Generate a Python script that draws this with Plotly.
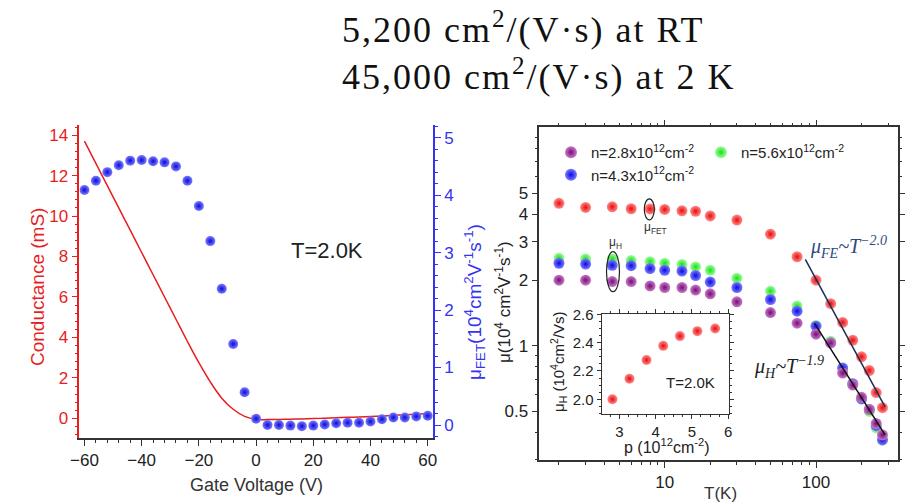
import plotly.graph_objects as go

# ---------------- data ----------------
# Left panel: conductance (red line) vs gate voltage
gate_v_line = [-60, -56, -52, -48, -44, -40, -36, -32, -28, -24, -20, -16, -12, -8, -4,
               0, 4, 8, 12, 16, 20, 24, 28, 32, 36, 40, 44, 48, 52, 56, 60]
conductance = [13.7, 12.6, 11.5, 10.4, 9.3, 8.2, 7.1, 6.0, 4.9, 3.8, 2.75, 1.8, 1.0, 0.45, 0.1,
               -0.05, -0.06, -0.05, -0.04, -0.03, -0.01, 0.01, 0.03, 0.05, 0.07, 0.09, 0.12, 0.15, 0.18, 0.21, 0.24]

# Left panel: mu_FET (blue spheres) vs gate voltage
gate_v_pts = [-60, -56, -52, -48, -44, -40, -36, -32, -28, -24, -20, -16, -12, -8, -4,
              0, 4, 8, 12, 16, 20, 24, 28, 32, 36, 40, 44, 48, 52, 56, 60]
mu_fet_gate = [4.09, 4.25, 4.40, 4.52, 4.60, 4.61, 4.59, 4.57, 4.50, 4.25, 3.81, 3.20, 2.37, 1.41, 0.57,
               0.11, 0.0, 0.0, -0.01, -0.02, -0.01, 0.01, 0.03, 0.04, 0.04, 0.06, 0.10, 0.13, 0.13, 0.15, 0.16]

# Right panel: mobility vs temperature
temp_k = [2, 3, 4.5, 6, 8, 10, 13, 16, 20, 30, 50, 75, 100, 125, 150, 175, 200, 225, 250, 275]
mu_fet_t = [4.50, 4.31, 4.34, 4.25, 4.24, 4.22, 4.16, 4.14, 3.94, 3.77, 3.25, 2.56,
            2.00, 1.56, 1.28, 1.06, 0.89, 0.77, 0.61, 0.52]
mu_h_n56 = [2.52, 2.50, 2.50, 2.46, 2.43, 2.39, 2.36, 2.30, 2.22, 2.04, 1.78, 1.52,
            1.24, 1.05, 0.79, 0.67, 0.57, 0.50, 0.42, 0.37]
mu_h_n43 = [2.39, 2.37, 2.34, 2.33, 2.26, 2.22, 2.20, 2.10, 1.96, 1.85, 1.63, 1.44,
            1.23, 1.03, 0.79, 0.67, 0.57, 0.51, 0.43, 0.37]
mu_h_n28 = [2.00, 2.00, 1.97, 1.97, 1.88, 1.85, 1.85, 1.80, 1.73, 1.59, 1.42, 1.27,
            1.13, 1.03, 0.75, 0.66, 0.58, 0.51, 0.44, 0.39]

# Power-law guide lines (end points)
fit_fe_t = [85, 286]
fit_fe_mu = [2.49, 0.525]
fit_h_t = [97.5, 286]
fit_h_mu = [1.27, 0.39]

# Inset: mu_H vs hole density at 2 K
p_dens = [2.81, 3.28, 3.75, 4.21, 4.67, 5.15, 5.64]
mu_h_p = [2.00, 2.145, 2.277, 2.377, 2.446, 2.481, 2.50]

legend_names = ["n=2.8x10<sup>12</sup>cm<sup>-2</sup>",
                "n=5.6x10<sup>12</sup>cm<sup>-2</sup>",
                "n=4.3x10<sup>12</sup>cm<sup>-2</sup>"]

# ---------------- figure ----------------
W, H = 910, 504
def px_x(p):
    return p / W
def px_y(p):
    return 1 - p / H

SANS = "Liberation Sans, Arial, sans-serif"
SERIF = "Liberation Serif, Times New Roman, serif"

RED = "#e81e1e"
BLUE_AX = "#3434f0"

fig = go.Figure()

def sphere(x, y, light, base, size, xa, ya, name=None, showlegend=False, legend="legend", rank=1000):
    fig.add_trace(go.Scatter(x=x, y=y, mode="markers", xaxis=xa, yaxis=ya,
                             name=name, showlegend=showlegend, legend=legend, legendrank=rank,
                             marker=dict(size=size, color=light,
                                         gradient=dict(type="radial", color=base),
                                         line=dict(width=0)),
                             hoverinfo="skip"))

# left panel
fig.add_trace(go.Scatter(x=gate_v_line, y=conductance, mode="lines", line=dict(color=RED, width=1.5, shape="spline"),
                         xaxis="x", yaxis="y", showlegend=False, hoverinfo="skip"))
sphere(gate_v_pts, mu_fet_gate, "#7c7cff", "#0a0ad8", 10, "x", "y2")

# right panel
sphere(temp_k, mu_h_n56, "#a0ffa0", "#18dc18", 11, "x3", "y3", legend_names[1], True, "legend2", 1)
sphere(temp_k, mu_h_n43, "#7c7cff", "#0a0ae0", 11, "x3", "y3", legend_names[2], True, "legend", 2)
sphere(temp_k, mu_h_n28, "#c77cc7", "#780a78", 11, "x3", "y3", legend_names[0], True, "legend", 1)
sphere(temp_k, mu_fet_t, "#ff8c8c", "#e80a0a", 11, "x3", "y3")
fig.add_trace(go.Scatter(x=fit_fe_t, y=fit_fe_mu, mode="lines", line=dict(color="#1c2e55", width=1.5),
                         xaxis="x3", yaxis="y3", showlegend=False, hoverinfo="skip"))
fig.add_trace(go.Scatter(x=fit_h_t, y=fit_h_mu, mode="lines", line=dict(color="#111111", width=1.5),
                         xaxis="x3", yaxis="y3", showlegend=False, hoverinfo="skip"))

# inset
sphere(p_dens, mu_h_p, "#ff8c8c", "#e80a0a", 10, "x4", "y4")

tickfont_main = dict(family=SANS, size=17, color="#222")
AXC = "#333"
legfont = dict(family=SANS, size=15, color="#222")

fig.update_layout(
    width=W, height=H, margin=dict(l=0, r=0, t=0, b=0, autoexpand=False),
    paper_bgcolor="white", plot_bgcolor="white",
    showlegend=True,
    legend=dict(orientation="v", x=px_x(551), y=px_y(136), xanchor="left", yanchor="top",
                bgcolor="rgba(0,0,0,0)", font=legfont, itemsizing="constant", tracegroupgap=0),
    legend2=dict(orientation="v", x=px_x(701), y=px_y(136), xanchor="left", yanchor="top",
                 bgcolor="rgba(0,0,0,0)", font=legfont, itemsizing="constant"),
    xaxis=dict(domain=[px_x(79.3), px_x(433)], range=[-61.8, 61.85], anchor="y",
               tickvals=[-60, -40, -20, 0, 20, 40, 60], ticks="outside", ticklen=6, tickwidth=1.2,
               tickcolor=AXC, showline=True, linecolor=AXC, linewidth=1.5, showgrid=False, zeroline=False,
               tickfont=tickfont_main,
               minor=dict(dtick=4, ticks="outside", ticklen=3, tickcolor=AXC, showgrid=False)),
    xaxis2=dict(overlaying="x", side="top", anchor="y", range=[-61.8, 61.85],
                tickvals=[-60, -40, -20, 0, 20, 40, 60], ticks="inside", ticklen=6, tickcolor=AXC,
                showticklabels=False, showline=True, linecolor=AXC, linewidth=1.5, showgrid=False, zeroline=False,
                minor=dict(dtick=4, ticks="inside", ticklen=3, tickcolor=AXC, showgrid=False)),
    yaxis=dict(domain=[px_y(438), px_y(125)], range=[-0.97, 14.5], anchor="x",
               tickvals=[0, 2, 4, 6, 8, 10, 12, 14], ticks="outside", ticklen=6, tickcolor=RED,
               showline=True, linecolor=RED, linewidth=1.5, showgrid=False, zeroline=False,
               tickfont=dict(family=SANS, size=17, color=RED),
               minor=dict(dtick=0.4, ticks="outside", ticklen=3, tickcolor=RED, showgrid=False)),
    yaxis2=dict(overlaying="y", side="right", anchor="x", range=[-0.226, 5.22],
                tickvals=[0, 1, 2, 3, 4, 5], ticks="outside", ticklen=6, tickcolor=BLUE_AX,
                showline=True, linecolor=BLUE_AX, linewidth=1.5, showgrid=False, zeroline=False,
                tickfont=dict(family=SANS, size=17, color=BLUE_AX),
                minor=dict(dtick=0.2, ticks="outside", ticklen=3, tickcolor=BLUE_AX, showgrid=False)),
    xaxis3=dict(type="log", domain=[px_x(539.3), px_x(897.7)], range=[0.171, 2.54], anchor="y3",
                tickvals=[10, 100], ticktext=["10", "100"], ticks="outside", ticklen=6, tickcolor=AXC,
                showline=True, linecolor=AXC, linewidth=1.5, mirror="ticks", showgrid=False, zeroline=False,
                tickfont=tickfont_main,
                minor=dict(tickvals=[2, 3, 4, 5, 6, 7, 8, 9, 20, 30, 40, 50, 60, 70, 80, 90, 200, 300],
                           ticks="outside", ticklen=3, tickcolor=AXC, showgrid=False)),
    yaxis3=dict(type="log", domain=[px_y(460), px_y(127.3)], range=[-0.524, 1.002], anchor="x3",
                tickvals=[0.5, 1, 2, 3, 4, 5], ticktext=["0.5", "1", "2", "3", "4", "5"],
                ticks="outside", ticklen=6, tickcolor=AXC,
                showline=True, linecolor=AXC, linewidth=1.5, mirror="ticks", showgrid=False, zeroline=False,
                tickfont=tickfont_main,
                minor=dict(tickvals=[0.3, 0.4, 0.6, 0.7, 0.8, 0.9, 6, 7, 8, 9],
                           ticks="outside", ticklen=3, tickcolor=AXC, showgrid=False)),
    xaxis4=dict(domain=[px_x(601.7), px_x(729.3)], range=[2.515, 6.03], anchor="y4",
                tickvals=[3, 4, 5, 6], ticks="outside", ticklen=4, tickcolor=AXC,
                showline=True, linecolor=AXC, linewidth=1.2, mirror="ticks", showgrid=False, zeroline=False,
                tickfont=dict(family=SANS, size=15, color="#222"),
                minor=dict(dtick=0.25, ticks="outside", ticklen=2, tickcolor=AXC, showgrid=False)),
    yaxis4=dict(domain=[px_y(414), px_y(314)], range=[1.896, 2.602], anchor="x4",
                tickvals=[2.0, 2.2, 2.4, 2.6], ticktext=["2.0", "2.2", "2.4", "2.6"],
                ticks="outside", ticklen=4, tickcolor=AXC,
                showline=True, linecolor=AXC, linewidth=1.2, mirror="ticks", showgrid=False, zeroline=False,
                tickfont=dict(family=SANS, size=15, color="#222"),
                minor=dict(dtick=0.05, ticks="outside", ticklen=2, tickcolor=AXC, showgrid=False)),
)

ann = []
def add_text(x, y, text, size, color="#222", family=SANS, angle=0, xanchor="center", yanchor="middle"):
    ann.append(dict(x=px_x(x), y=px_y(y), xref="paper", yref="paper", text=text, showarrow=False,
                    textangle=angle, xanchor=xanchor, yanchor=yanchor,
                    font=dict(family=family, size=size, color=color)))

# top headline
add_text(340, 27, '<span style="letter-spacing:2px">5,200 cm<sup>2</sup>/(V·s) at RT</span>', 36,
         color="#111", family=SERIF, xanchor="left")
add_text(340, 74.5, '<span style="letter-spacing:2px">45,000 cm<sup>2</sup>/(V·s) at 2 K</span>', 36,
         color="#111", family=SERIF, xanchor="left")

# left panel titles
add_text(37, 287, "Conductance (mS)", 19, color=RED, angle=-90)
add_text(256, 485, "Gate Voltage (V)", 18, color="#333")
add_text(474, 302, "μ<sub>FET</sub>(10<sup>4</sup>cm<sup>2</sup>V<sup>-1</sup>s<sup>-1</sup>)", 19,
         color=BLUE_AX, angle=-90)
add_text(327, 250, "T=2.0K", 22, color="#222")

# right panel titles
add_text(503, 302, "μ(10<sup>4</sup> cm<sup>2</sup>V<sup>-1</sup>s<sup>-1</sup>)", 17, color="#222", angle=-90)
add_text(720, 493, "T(K)", 17, color="#333")
add_text(655, 228, "μ<sub>FET</sub>", 12, color="#333")
add_text(615, 243, "μ<sub>H</sub>", 12, color="#333")
add_text(848, 247, "<i>μ<sub>FE</sub>~T<sup>−2.0</sup></i>", 20, color="#2e4a7d", family=SERIF)
add_text(789, 367, "<i>μ<sub>H</sub>~T<sup>−1.9</sup></i>", 20, color="#222", family=SERIF)

# inset titles
add_text(558, 362, "μ<sub>H</sub> (10<sup>4</sup>cm<sup>2</sup>/Vs)", 15, color="#222", angle=-90)
add_text(667, 446, "p (10<sup>12</sup>cm<sup>-2</sup>)", 16, color="#222")
add_text(690, 382, "T=2.0K", 15, color="#222")

fig.update_layout(annotations=ann)

# ellipses around the highlighted points
fig.add_shape(type="circle", xref="paper", yref="paper", xsizemode="pixel", ysizemode="pixel",
              xanchor=px_x(649.3), yanchor=px_y(209.3), x0=-5, x1=5, y0=-10.5, y1=10.5,
              line=dict(color="#222", width=1.2))
fig.add_shape(type="circle", xref="paper", yref="paper", xsizemode="pixel", ysizemode="pixel",
              xanchor=px_x(613), yanchor=px_y(271.7), x0=-6.5, x1=6.5, y0=-20, y1=20,
              line=dict(color="#222", width=1.2))

fig.write_html("out.html")
